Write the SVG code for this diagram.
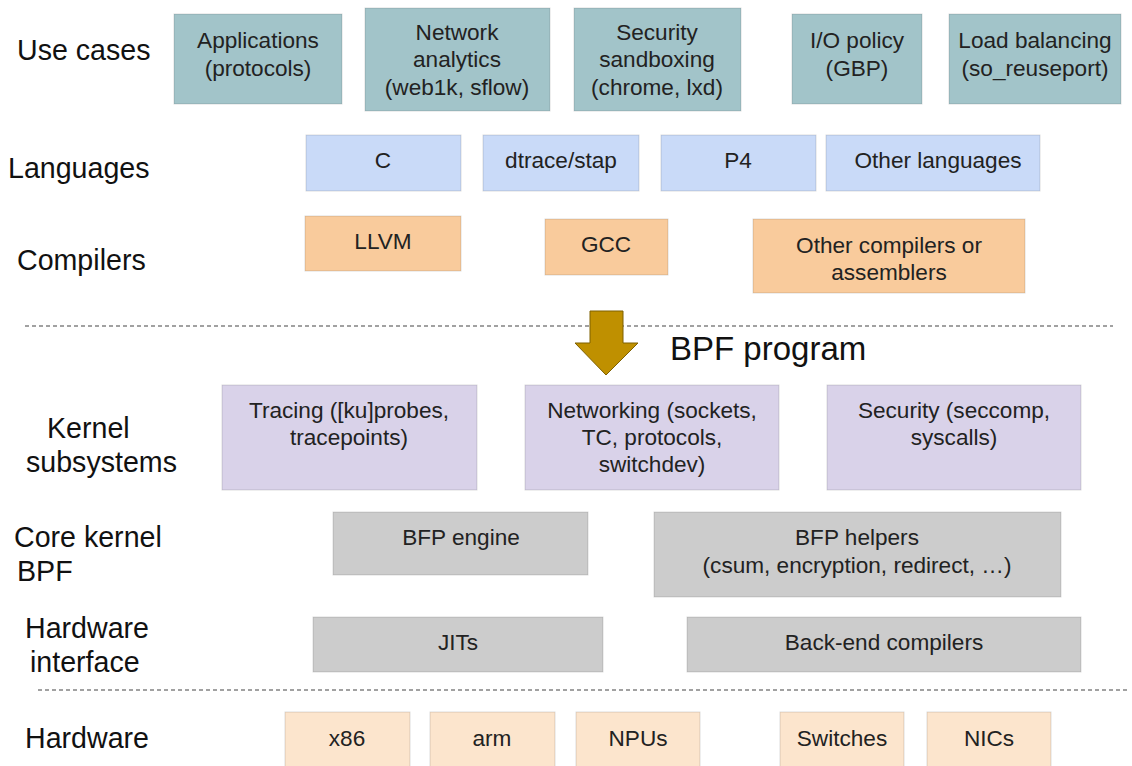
<svg xmlns="http://www.w3.org/2000/svg" width="1132" height="766" viewBox="0 0 1132 766">
<style>
.lbl{font-family:"Liberation Sans",Arial,sans-serif;font-size:28.6px;fill:#111}
.t{font-family:"Liberation Sans",Arial,sans-serif;font-size:22.6px;fill:#222;text-anchor:middle}
.b{stroke:#00000022;stroke-width:1}
.uc{fill:#a2c4c9}.lg{fill:#c9daf8}.cp{fill:#f9cb9c}.ks{fill:#d9d2e9}.gr{fill:#cccccc}.hw{fill:#fce5cd}
.dash{stroke:#444;stroke-width:1.2;stroke-dasharray:4 3;fill:none}
</style>
<rect width="1132" height="766" fill="#fff"/>
<g id="labels">
<text class="lbl" x="17" y="60">Use cases</text>
<text class="lbl" x="8" y="178">Languages</text>
<text class="lbl" x="17" y="270">Compilers</text>
<text class="lbl" x="47" y="438">Kernel</text>
<text class="lbl" x="26" y="472">subsystems</text>
<text class="lbl" x="14" y="547">Core kernel</text>
<text class="lbl" x="17" y="581">BPF</text>
<text class="lbl" x="25" y="638">Hardware</text>
<text class="lbl" x="30" y="672">interface</text>
<text class="lbl" x="25" y="748">Hardware</text>
</g>
<g id="separators">
<line class="dash" x1="25" y1="326" x2="1113" y2="326"/>
<line class="dash" x1="38" y1="690" x2="1128" y2="690"/>
</g>
<g id="uc-applications"><rect class="uc b" x="174" y="14" width="168" height="90"/><text class="t" x="258" y="48">Applications</text><text class="t" x="258" y="76">(protocols)</text></g>
<g id="uc-network"><rect class="uc b" x="365" y="8" width="185" height="103"/><text class="t" x="457" y="40">Network</text><text class="t" x="457" y="67">analytics</text><text class="t" x="457" y="95">(web1k, sflow)</text></g>
<g id="uc-security"><rect class="uc b" x="574" y="8" width="167" height="103"/><text class="t" x="657" y="40">Security</text><text class="t" x="657" y="67">sandboxing</text><text class="t" x="657" y="95">(chrome, lxd)</text></g>
<g id="uc-io"><rect class="uc b" x="792" y="14" width="130" height="90"/><text class="t" x="857" y="48">I/O policy</text><text class="t" x="857" y="76">(GBP)</text></g>
<g id="uc-lb"><rect class="uc b" x="949" y="14" width="172" height="90"/><text class="t" x="1035" y="48">Load balancing</text><text class="t" x="1035" y="76">(so_reuseport)</text></g>
<g id="lang-c"><rect class="lg b" x="306" y="135" width="155" height="56"/><text class="t" x="383" y="168">C</text></g>
<g id="lang-dtrace"><rect class="lg b" x="483" y="135" width="156" height="56"/><text class="t" x="561" y="168">dtrace/stap</text></g>
<g id="lang-p4"><rect class="lg b" x="661" y="135" width="155" height="56"/><text class="t" x="738" y="168">P4</text></g>
<g id="lang-other"><rect class="lg b" x="826" y="135" width="214" height="56"/><text class="t" x="938" y="168">Other languages</text></g>
<g id="comp-llvm"><rect class="cp b" x="305" y="216" width="156" height="55"/><text class="t" x="383" y="249">LLVM</text></g>
<g id="comp-gcc"><rect class="cp b" x="545" y="219" width="123" height="56"/><text class="t" x="606" y="252">GCC</text></g>
<g id="comp-other"><rect class="cp b" x="753" y="219" width="272" height="74"/><text class="t" x="889" y="253">Other compilers or</text><text class="t" x="889" y="280">assemblers</text></g>
<g id="bpf-program">
<polygon points="590,311 623,311 623,343 638,343 606,375 575,343 590,343" fill="#bf9000" stroke="#7f6000" stroke-width="1"/>
<text x="670" y="360" style="font-family:'Liberation Sans',Arial,sans-serif;font-size:33px;fill:#111">BPF program</text>
</g>
<g id="ks-tracing"><rect class="ks b" x="222" y="385" width="255" height="105"/><text class="t" x="349" y="418">Tracing ([ku]probes,</text><text class="t" x="349" y="445">tracepoints)</text></g>
<g id="ks-networking"><rect class="ks b" x="525" y="385" width="254" height="105"/><text class="t" x="652" y="418">Networking (sockets,</text><text class="t" x="652" y="445">TC, protocols,</text><text class="t" x="652" y="472">switchdev)</text></g>
<g id="ks-security"><rect class="ks b" x="827" y="385" width="254" height="105"/><text class="t" x="954" y="418">Security (seccomp,</text><text class="t" x="954" y="445">syscalls)</text></g>
<g id="core-engine"><rect class="gr b" x="333" y="512" width="255" height="63"/><text class="t" x="461" y="545">BFP engine</text></g>
<g id="core-helpers"><rect class="gr b" x="654" y="512" width="407" height="85"/><text class="t" x="857" y="545">BFP helpers</text><text class="t" x="857" y="573">(csum, encryption, redirect, …)</text></g>
<g id="hi-jits"><rect class="gr b" x="313" y="617" width="290" height="55"/><text class="t" x="458" y="650">JITs</text></g>
<g id="hi-backend"><rect class="gr b" x="687" y="617" width="394" height="55"/><text class="t" x="884" y="650">Back-end compilers</text></g>
<g id="hw-x86"><rect class="hw b" x="285" y="712" width="125" height="60"/><text class="t" x="347" y="746">x86</text></g>
<g id="hw-arm"><rect class="hw b" x="430" y="712" width="125" height="60"/><text class="t" x="492" y="746">arm</text></g>
<g id="hw-npus"><rect class="hw b" x="576" y="712" width="124" height="60"/><text class="t" x="638" y="746">NPUs</text></g>
<g id="hw-switches"><rect class="hw b" x="780" y="712" width="124" height="60"/><text class="t" x="842" y="746">Switches</text></g>
<g id="hw-nics"><rect class="hw b" x="927" y="712" width="124" height="60"/><text class="t" x="989" y="746">NICs</text></g>
</svg>
